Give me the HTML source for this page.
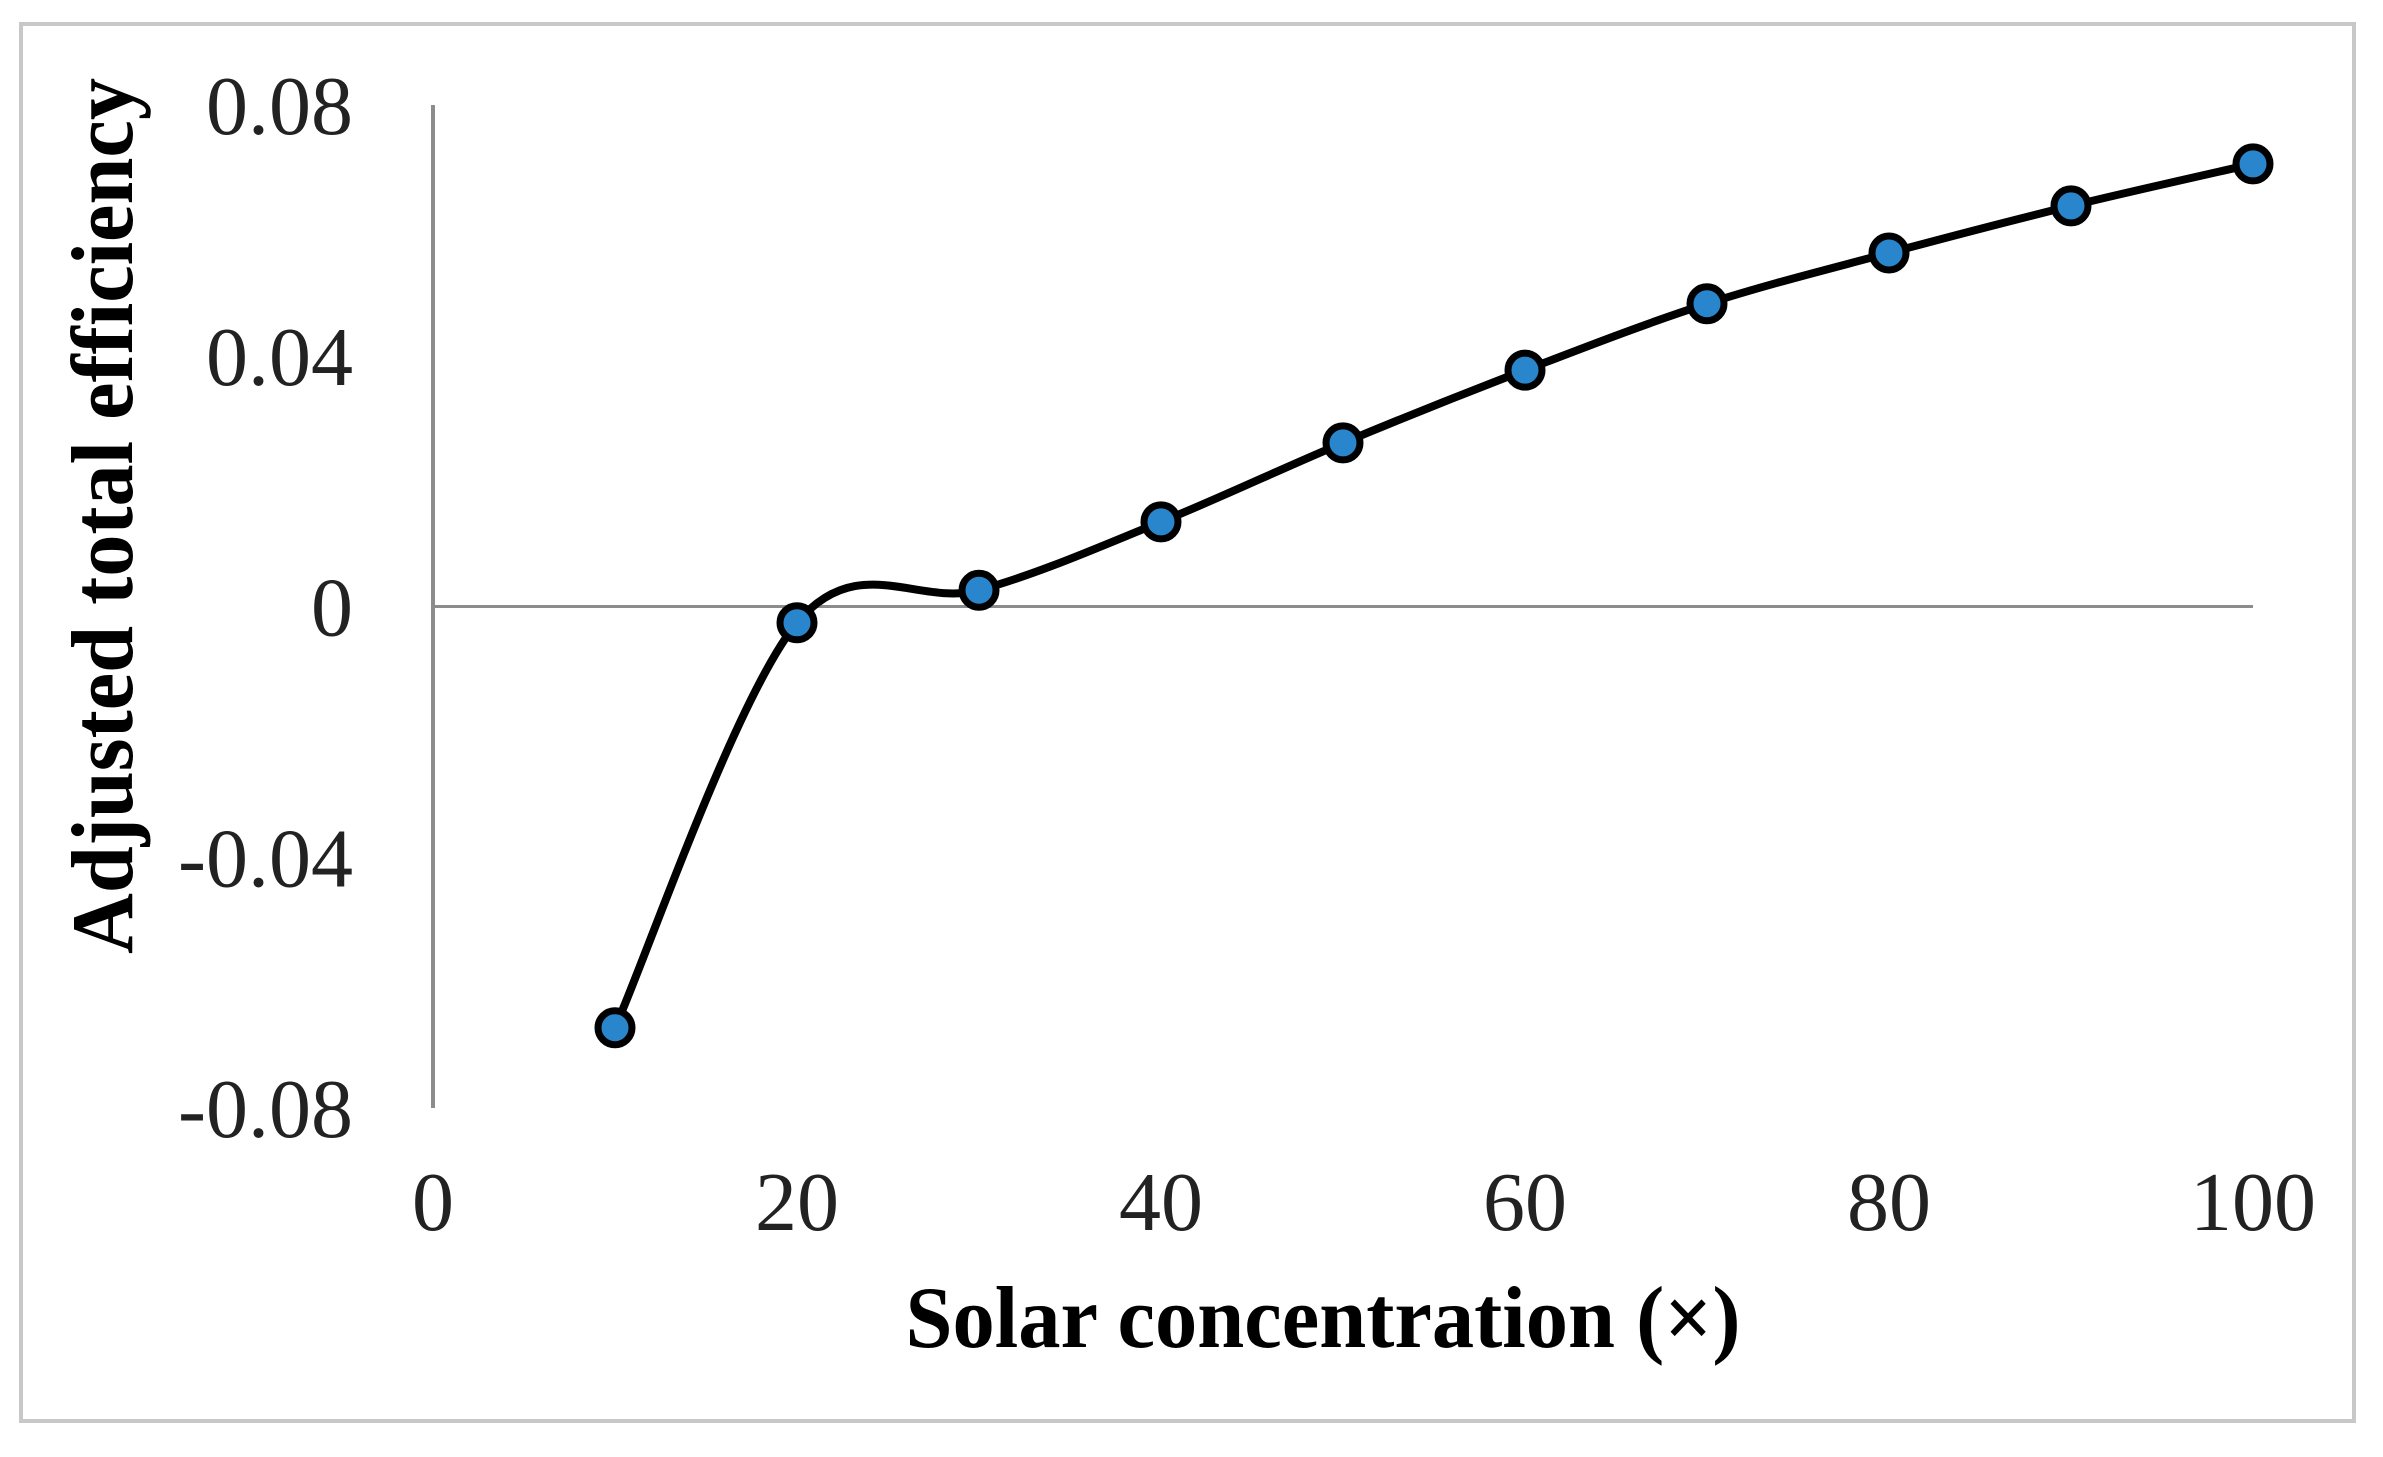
<!DOCTYPE html>
<html><head><meta charset="utf-8"><style>
html,body{margin:0;padding:0;background:#fff;}
svg{display:block;}
</style></head><body>
<svg id="chart" width="2383" height="1457" viewBox="0 0 2383 1457" xmlns="http://www.w3.org/2000/svg">
<rect x="21" y="24" width="2333" height="1397" fill="#fff" stroke="#c8c8c8" stroke-width="4"/>
<g id="axes"></g>
<g id="series"></g>
<text transform="translate(132,516) rotate(-90)" text-anchor="middle" font-family="Liberation Serif, serif" font-weight="bold" font-size="88" textLength="876" lengthAdjust="spacingAndGlyphs">Adjusted total efficiency</text>
<text x="1323" y="1347" text-anchor="middle" font-family="Liberation Serif, serif" font-weight="bold" font-size="88" textLength="835" lengthAdjust="spacingAndGlyphs">Solar concentration  (×)</text>
</svg>
<script>
const xCats = [10,20,30,40,50,60,70,80,90,100];
const yVals = [-0.0672,-0.0026,0.0026,0.0135,0.0261,0.0377,0.0483,0.0564,0.0639,0.0706];
const xTicks = [0,20,40,60,80,100];
const yTicks = [0.08,0.04,0,-0.04,-0.08];
const yTickLabels = ["0.08","0.04","0","-0.04","-0.08"];

const NS="http://www.w3.org/2000/svg";
function X(v){return 433+(v-0)*(2253-433)/100;}
function Y(v){return 606.5-(v)*(1003/0.16);}
function mk(tag,attrs,parent){const e=document.createElementNS(NS,tag);for(const k in attrs)e.setAttribute(k,attrs[k]);parent.appendChild(e);return e;}
const axes=document.getElementById('axes'), series=document.getElementById('series');

let yl=mk('line',{x1:X(0),x2:X(0),y1:Y(0.08),y2:Y(-0.08),stroke:'#8c8c8c','stroke-width':4},axes);


let xl=mk('line',{x1:X(0),x2:X(100),y1:Y(0),y2:Y(0),stroke:'#8c8c8c','stroke-width':3},axes);



yTicks.forEach((v,i)=>{
  const t=mk('text',{x:353,y:Y(v)+29,'text-anchor':'end','font-family':'Liberation Serif, serif','font-size':84,fill:'#222'},axes);
  t.textContent=yTickLabels[i];
  
  
});
xTicks.forEach(v=>{
  const t=mk('text',{x:X(v),y:1230,'text-anchor':'middle','font-family':'Liberation Serif, serif','font-size':84,fill:'#222'},axes);
  t.textContent=String(v);
  
  
});

const pts=xCats.map((c,i)=>[X(c),Y(yVals[i])]);
let d='M'+pts[0][0]+','+pts[0][1];
for(let i=0;i<pts.length-1;i++){
  const p0=pts[Math.max(0,i-1)],p1=pts[i],p2=pts[i+1],p3=pts[Math.min(pts.length-1,i+2)];
  const c1=[p1[0]+(p2[0]-p0[0])/6,p1[1]+(p2[1]-p0[1])/6];
  const c2=[p2[0]-(p3[0]-p1[0])/6,p2[1]-(p3[1]-p1[1])/6];
  d+=' C'+c1[0]+','+c1[1]+' '+c2[0]+','+c2[1]+' '+p2[0]+','+p2[1];
}
const line=mk('path',{d:d,fill:'none',stroke:'#000','stroke-width':8,'stroke-linejoin':'round'},series);


pts.forEach(p=>{
  const c=mk('circle',{cx:p[0],cy:p[1],r:17,fill:'#2a86cc',stroke:'#000','stroke-width':7},series);
  
  
});
</script>
</body></html>
